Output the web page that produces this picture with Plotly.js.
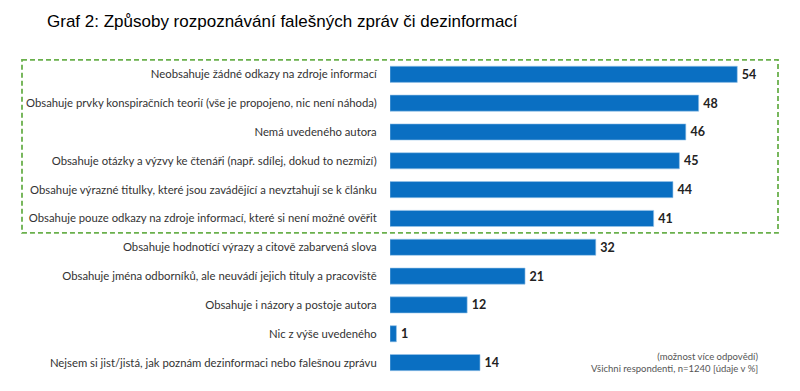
<!DOCTYPE html>
<html>
<head>
<meta charset="utf-8">
<script src="https://cdn.plot.ly/plotly-3.0.1.min.js"></script>
<style>html,body{margin:0;padding:0;background:#fff;}#chart{width:800px;height:391px;}</style>
</head>
<body>
<div id="chart"></div>
<script>
const categories = [
  "Neobsahuje žádné odkazy na zdroje informací",
  "Obsahuje prvky konspiračních teorií (vše je propojeno, nic není náhoda)",
  "Nemá uvedeného autora",
  "Obsahuje otázky a výzvy ke čtenáři (např. sdílej, dokud to nezmizí)",
  "Obsahuje výrazné titulky, které jsou zavádějící a nevztahují se k článku",
  "Obsahuje pouze odkazy na zdroje informací, které si není možné ověřit",
  "Obsahuje hodnotící výrazy a citově zabarvená slova",
  "Obsahuje jména odborníků, ale neuvádí jejich tituly a pracoviště",
  "Obsahuje i názory a postoje autora",
  "Nic z výše uvedeného",
  "Nejsem si jist/jistá, jak poznám dezinformaci nebo falešnou zprávu"
];
const values = [54, 48, 46, 45, 44, 41, 32, 21, 12, 1, 14];
const titleText = "Graf 2: Způsoby rozpoznávání falešných zpráv či dezinformací";
const noteLines = ["(možnost více odpovědí)", "Všichni respondenti, n=1240 [údaje v %]"];

const trace = {
  type: 'bar',
  orientation: 'h',
  y: categories,
  x: values,
  text: values.map(v => '\u2009' + v),
  textposition: 'outside',
  cliponaxis: false,
  textfont: {family: 'Lato, sans-serif', size: 12.5, color: '#222', weight: 'bold'},
  marker: {color: '#0a6fc2', line: {color: '#9cc6ea', width: 0.6}},
  width: 0.56,
  hoverinfo: 'none'
};

const layout = {
  width: 800, height: 391,
  margin: {l: 390, r: 10, t: 58.5, b: 13.5},
  paper_bgcolor: '#fff', plot_bgcolor: '#fff',
  showlegend: false,
  title: {
    text: titleText,
    font: {family: 'Liberation Sans, Arial, sans-serif', size: 17, color: '#000'},
    xref: 'container', x: 47/800, xanchor: 'left',
    yref: 'container', y: 1 - 21/391, yanchor: 'middle'
  },
  xaxis: {range: [0, 62.2], visible: false, fixedrange: true},
  yaxis: {
    autorange: 'reversed', type: 'category',
    showline: false, showgrid: false, zeroline: false,
    ticks: 'outside', ticklen: 10, tickcolor: 'rgba(0,0,0,0)',
    tickfont: {family: 'Lato, sans-serif', size: 11.3, color: '#333'},
    automargin: false
  },
  shapes: [{
    type: 'rect', xref: 'paper', yref: 'y',
    x0: (22-390)/400, x1: (778-390)/400, y0: -0.5, y1: 5.5,
    line: {color: '#6ab04c', width: 1.8, dash: '5px,3px'},
    fillcolor: 'rgba(0,0,0,0)'
  }],
  annotations: [{
    xref: 'paper', yref: 'paper',
    x: (761-390)/400, y: (377.5-362.5)/319,
    xanchor: 'right', yanchor: 'middle', align: 'right',
    showarrow: false,
    text: noteLines.join('<br>'),
    font: {family: 'Lato, sans-serif', size: 9.5, color: '#555'}
  }]
};

Plotly.newPlot('chart', [trace], layout, {staticPlot: true, displayModeBar: false});
</script>
</body>
</html>
